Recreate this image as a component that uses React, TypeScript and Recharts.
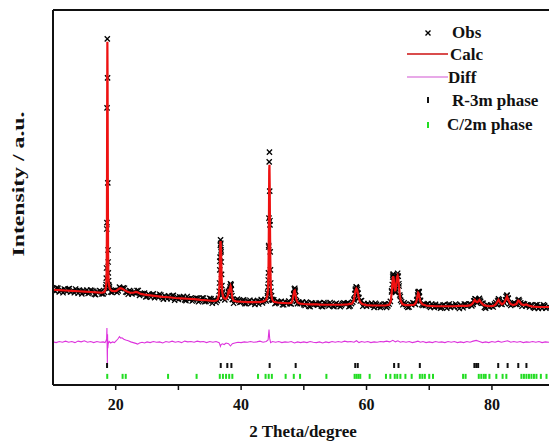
import React from "react";
import { ComposedChart, Scatter, Line, XAxis, YAxis, ReferenceLine, Label } from "recharts";

// XRD Rietveld fit: observed crosses, calculated profile, difference curve, Bragg ticks.
// Intensities are in arbitrary units (0..1000 over the plot height).

const FONT = '"Liberation Serif", "Times New Roman", serif';

const thetaTicks = [20, 30, 40, 50, 60, 70, 80];

// observed background, one reading every 0.4 deg from 10 deg
const obsStart = 10;
const obsStep = 0.4;
const obsGrid = [
  257, 250, 258, 252, 246, 254, 256, 248, 252, 256,
  245, 250, 252, 247, 244, 253, 250, 241, 248, 250,
  243, 261, 328, 248, 252, 253, 251, 257, 259, 248,
  242, 250, 247, 245, 252, 242, 243, 235, 242, 234,
  243, 237, 234, 240, 229, 235, 237, 230, 239, 231,
  228, 233, 236, 225, 230, 232, 227, 232, 222, 228,
  232, 223, 224, 230, 226, 220, 231, 355, 232, 233,
  246, 268, 218, 224, 225, 221, 227, 217, 223, 218,
  225, 221, 216, 228, 224, 224, 372, 228, 227, 219,
  221, 223, 214, 218, 224, 216, 241, 223, 221, 219,
  214, 221, 210, 219, 214, 215, 218, 210, 220, 215,
  211, 216, 209, 218, 214, 212, 219, 217, 209, 217,
  227, 260, 232, 225, 217, 210, 213, 218, 207, 215,
  213, 210, 216, 207, 216, 251, 266, 279, 264, 222,
  219, 210, 208, 214, 218, 226, 249, 214, 215, 215,
  210, 216, 207, 210, 211, 207, 214, 205, 216, 212,
  208, 213, 204, 211, 216, 210, 216, 211, 225, 219,
  231, 218, 207, 214, 208, 210, 216, 214, 227, 215,
  218, 238, 216, 215, 219, 215, 224, 210, 216, 214,
  208, 212, 205, 214, 210, 205, 212, 207,
];
// the readings in between, from 10.2 deg
const obsMidStart = 10.2;
const obsGridMid = [
  252, 259, 248, 253, 256, 249, 257, 250, 246, 252,
  253, 243, 249, 253, 246, 252, 242, 248, 252, 243,
  247, 433, 262, 247, 252, 247, 261, 257, 258, 247,
  252, 243, 246, 252, 239, 244, 245, 236, 240, 241,
  233, 237, 242, 233, 238, 230, 234, 238, 226, 234,
  235, 230, 227, 236, 229, 224, 230, 231, 225, 232,
  222, 226, 231, 218, 227, 225, 330, 248, 227, 240,
  255, 228, 226, 229, 220, 225, 217, 222, 226, 220,
  215, 225, 223, 219, 228, 238, 438, 226, 217, 223,
  220, 214, 222, 220, 217, 232, 253, 217, 217, 221,
  212, 218, 209, 218, 216, 213, 219, 209, 218, 214,
  220, 211, 216, 213, 209, 217, 216, 219, 211, 221,
  253, 246, 224, 210, 214, 217, 212, 214, 218, 209,
  207, 213, 216, 211, 223, 293, 247, 290, 236, 214,
  215, 207, 216, 219, 215, 246, 226, 212, 212, 217,
  207, 213, 215, 209, 205, 213, 210, 214, 207, 211,
  216, 208, 213, 206, 215, 212, 216, 215, 229, 222,
  223, 218, 205, 212, 213, 208, 220, 226, 216, 223,
  227, 231, 212, 218, 215, 220, 219, 217, 211, 213,
  213, 207, 214, 204, 209, 214, 205, 210,
];

// observed points recorded across the reflections
const obsPeaks: [number, number][] = [
  [18.46, 268], [18.5, 285], [18.54, 312], [18.58, 416], [18.62, 739], [18.66, 923],
  [18.7, 819], [18.74, 539], [18.78, 360], [18.82, 299], [18.86, 278], [18.92, 266], [19.0, 258],
  [36.5, 250], [36.56, 272], [36.6, 307], [36.64, 341], [36.68, 373], [36.72, 387],
  [36.76, 378], [36.8, 360], [36.84, 328], [36.88, 295], [36.94, 265], [37.02, 245],
  [37.9, 238], [37.96, 250], [38.04, 246], [38.16, 252], [38.24, 262], [38.3, 270],
  [38.36, 266], [38.44, 255], [38.54, 238], [38.64, 228],
  [44.22, 245], [44.28, 261], [44.32, 280], [44.36, 299], [44.4, 368], [44.44, 445],
  [44.48, 595], [44.52, 621], [44.56, 517], [44.6, 427], [44.64, 355], [44.68, 307],
  [44.72, 272], [44.78, 250], [44.86, 238], [44.96, 228],
  [48.3, 232], [48.4, 244], [48.48, 256], [48.56, 258], [48.64, 250], [48.72, 238], [48.84, 224],
  [58.05, 230], [58.15, 244], [58.25, 256], [58.35, 262], [58.45, 259], [58.55, 255],
  [58.65, 244], [58.75, 234],
  [64.0, 248], [64.1, 268], [64.18, 288], [64.26, 296], [64.34, 287], [64.44, 264],
  [64.56, 250], [64.66, 256], [64.76, 275], [64.86, 292], [64.96, 298], [65.06, 290],
  [65.16, 270], [65.3, 240], [65.44, 226],
  [68.05, 228], [68.15, 240], [68.25, 249], [68.35, 246], [68.45, 236], [68.6, 224],
  [77.1, 224], [77.3, 230], [77.5, 222], [77.9, 228], [78.1, 226],
  [80.9, 224], [81.05, 230], [82.25, 236], [82.4, 240], [82.55, 232], [84.15, 226], [84.3, 228],
];

const calcProfile: [number, number][] = [
  [10, 254], [11, 253], [12, 252], [13, 251], [14, 250], [15, 249], [16, 248], [17, 247],
  [17.8, 246], [18.2, 248], [18.4, 256], [18.48, 266], [18.52, 280], [18.56, 305],
  [18.6, 420], [18.64, 735], [18.67, 915], [18.7, 815], [18.74, 545], [18.78, 365],
  [18.82, 300], [18.88, 275], [18.96, 263], [19.1, 255], [19.4, 251], [19.8, 250],
  [20.1, 251], [20.4, 255], [20.7, 258], [21.0, 257], [21.4, 253], [21.8, 249],
  [22.3, 246], [22.8, 246], [23.2, 248], [23.5, 247], [24.0, 243], [24.6, 241],
  [25.5, 239], [26.5, 237], [27.5, 235], [28.5, 234], [29.5, 232], [30.5, 231],
  [31.5, 230], [32.5, 229], [33.5, 227], [34.5, 226], [35.5, 224], [36.0, 225],
  [36.3, 229], [36.45, 240], [36.55, 268], [36.6, 305], [36.64, 345], [36.68, 375],
  [36.72, 384], [36.76, 375], [36.8, 358], [36.84, 325], [36.88, 292], [36.94, 262],
  [37.02, 244], [37.2, 233], [37.5, 229], [37.75, 233], [37.9, 242], [37.98, 249],
  [38.06, 246], [38.16, 250], [38.24, 259], [38.32, 264], [38.4, 260], [38.48, 248],
  [38.6, 233], [38.8, 225], [39.2, 223], [40, 222], [41, 221], [42, 221], [43, 221],
  [43.6, 223], [44.0, 227], [44.2, 240], [44.28, 255], [44.32, 273], [44.36, 295],
  [44.4, 365], [44.44, 450], [44.48, 570], [44.52, 587], [44.56, 530], [44.6, 432],
  [44.64, 352], [44.68, 302], [44.72, 270], [44.78, 248], [44.86, 236], [44.96, 228],
  [45.2, 222], [45.8, 220], [46.5, 219], [47.5, 218], [48.0, 219], [48.2, 226],
  [48.35, 240], [48.48, 251], [48.56, 252], [48.66, 243], [48.8, 228], [49.0, 220],
  [49.4, 217], [50, 216], [51, 215], [52, 215], [53, 214], [54, 214], [55, 214],
  [56, 214], [57, 215], [57.7, 217], [57.95, 225], [58.1, 238], [58.25, 252],
  [58.38, 257], [58.5, 254], [58.62, 245], [58.75, 233], [58.95, 222], [59.3, 216],
  [60, 213], [61, 212], [62, 212], [63, 212], [63.6, 214], [63.85, 222], [64.0, 244],
  [64.1, 265], [64.18, 284], [64.26, 290], [64.34, 283], [64.44, 262], [64.56, 250],
  [64.66, 255], [64.76, 272], [64.86, 287], [64.96, 291], [65.06, 284], [65.16, 266],
  [65.3, 240], [65.45, 225], [65.7, 216], [66.2, 213], [67.0, 213], [67.6, 214],
  [67.9, 220], [68.05, 230], [68.15, 240], [68.23, 246], [68.32, 244], [68.45, 233],
  [68.6, 222], [68.9, 215], [69.5, 212], [70, 211], [71, 210], [72, 210], [73, 210],
  [74, 210], [75, 211], [76, 211], [76.6, 213], [76.95, 218], [77.25, 227], [77.5, 222],
  [77.7, 221], [78.0, 227], [78.3, 219], [78.7, 213], [79.5, 210], [80.2, 211],
  [80.6, 215], [80.85, 222], [81.05, 227], [81.3, 220], [81.6, 215], [81.95, 219],
  [82.2, 228], [82.4, 236], [82.6, 228], [82.9, 217], [83.4, 213], [83.9, 216],
  [84.2, 225], [84.4, 223], [84.7, 215], [85.1, 213], [85.5, 215], [85.8, 212],
  [86.5, 209], [87.5, 208], [89.1, 208],
];

// obs - calc, shifted down under the pattern
const diffCurve: [number, number][] = [
  [10, 115], [10.5, 113], [11, 116], [11.5, 114], [12, 117], [12.5, 114], [13, 116],
  [13.5, 113], [14, 117], [14.5, 115], [15, 118], [15.5, 114], [16, 116], [16.5, 113],
  [17, 116], [17.5, 114], [18, 115], [18.3, 113], [18.45, 118], [18.55, 122], [18.6, 152],
  [18.64, 90], [18.67, 58], [18.7, 135], [18.74, 98], [18.8, 110], [18.95, 116],
  [19.2, 112], [19.5, 115], [19.8, 113], [20.1, 118], [20.4, 124], [20.6, 129],
  [20.8, 125], [21.0, 126], [21.3, 122], [21.6, 120], [22.0, 118], [22.4, 115],
  [22.8, 113], [23.2, 111], [23.5, 109], [23.8, 112], [24.2, 114], [24.6, 112],
  [25, 115], [25.5, 113], [26, 116], [26.5, 114], [27, 115], [27.5, 112], [28, 116],
  [28.5, 114], [29, 117], [29.5, 114], [30, 116], [30.5, 113], [31, 117], [31.5, 115],
  [32, 116], [32.5, 114], [33, 117], [33.5, 115], [34, 116], [34.5, 113], [35, 116],
  [35.5, 114], [36, 116], [36.5, 113], [36.7, 103], [36.8, 108], [37.0, 110],
  [37.3, 108], [37.6, 112], [38.0, 110], [38.3, 104], [38.6, 110], [39, 112],
  [39.5, 114], [40, 113], [40.5, 115], [41, 114], [41.5, 116], [42, 114], [42.5, 115],
  [43, 117], [43.5, 114], [44.0, 116], [44.3, 120], [44.45, 148], [44.55, 125],
  [44.7, 113], [45, 116], [45.5, 114], [46, 116], [46.5, 113], [47, 115], [47.5, 114],
  [48, 116], [48.5, 112], [49, 115], [49.5, 113], [50, 115], [50.5, 113], [51, 116],
  [51.5, 114], [52, 113], [52.5, 115], [53, 112], [53.5, 115], [54, 113], [54.5, 116],
  [55, 114], [55.5, 116], [56, 114], [56.5, 117], [57, 115], [57.5, 116], [58, 114],
  [58.4, 118], [58.8, 113], [59.2, 116], [59.7, 114], [60.2, 116], [60.7, 113],
  [61.2, 115], [61.7, 114], [62.2, 116], [62.7, 115], [63.2, 117], [63.7, 115],
  [64.2, 119], [64.6, 115], [65.0, 118], [65.4, 114], [65.8, 116], [66.3, 114],
  [66.8, 116], [67.3, 113], [67.8, 115], [68.2, 117], [68.6, 114], [69, 116],
  [69.5, 113], [70, 115], [70.5, 113], [71, 116], [71.5, 114], [72, 115], [72.5, 113],
  [73, 116], [73.5, 114], [74, 116], [74.5, 113], [75, 115], [75.5, 113], [76, 116],
  [76.5, 114], [77, 117], [77.5, 119], [78, 116], [78.5, 113], [79, 115], [79.5, 113],
  [80, 116], [80.5, 114], [81, 117], [81.5, 114], [82, 116], [82.5, 118], [83, 114],
  [83.5, 116], [84, 114], [84.5, 116], [85, 113], [85.5, 115], [86, 114], [86.5, 116],
  [87, 114], [87.5, 116], [88, 113], [88.5, 115], [89.1, 114],
];

// Bragg reflection positions (deg)
const r3mPeaks = [
  18.62, 36.75, 37.8, 38.45, 44.55, 48.7, 58.2, 58.6, 64.4, 65.1, 68.5,
  77.2, 77.5, 77.8, 81.0, 82.5, 84.2, 85.5,
];
const c2mPeaks = [
  18.65, 21.1, 21.6, 28.35, 32.9, 36.6, 37.1, 37.6, 38.1, 38.6, 42.7, 43.9, 44.4, 44.9,
  47.1, 48.4, 49.4, 53.6, 58.1, 58.4, 58.7, 59.0, 60.5, 63.1, 63.8, 64.5, 64.9, 65.4,
  66.2, 67.2, 68.5, 68.9, 69.3, 70.0, 70.6, 75.4, 75.8, 77.9, 78.3, 78.7, 79.0, 79.6,
  80.7, 81.7, 82.3, 84.7, 85.1, 85.5, 85.9, 86.3, 86.7, 87.1, 87.8, 88.7,
];
const R3M_ROW = 52;
const C2M_ROW = 23;

const toPts = (arr: [number, number][]) => arr.map(([t, v]) => ({ t, v }));
const gridPts = (start: number, vals: number[]) =>
  vals.map((v, i) => ({ t: +(start + i * obsStep).toFixed(2), v }));

const obsPts = [
  ...gridPts(obsStart, obsGrid),
  ...gridPts(obsMidStart, obsGridMid),
  ...toPts(obsPeaks),
].sort((a, b) => a.t - b.t);
const calcPts = toPts(calcProfile);
const diffPts = toPts(diffCurve);
const r3mPts = r3mPeaks.map((t) => ({ t, v: R3M_ROW }));
const c2mPts = c2mPeaks.map((t) => ({ t, v: C2M_ROW }));

const cross = (p: any) => {
  const { cx, cy } = p;
  const s = 2.6;
  return (
    <path
      d={`M${cx - s},${cy - s}L${cx + s},${cy + s}M${cx - s},${cy + s}L${cx + s},${cy - s}`}
      stroke="#000"
      strokeWidth={1.3}
      fill="none"
    />
  );
};

const braggTick = (color: string) => (p: any) =>
  <rect x={p.cx - 1} y={p.cy - 2.5} width={2} height={5} fill={color} />;

const ThetaTick = ({ x, payload }: any) =>
  payload.value % 20 === 0 ? (
    <text x={x} y={410} textAnchor="middle" fontFamily={FONT} fontWeight="bold" fontSize={16} fill="#111">
      {payload.value}
    </text>
  ) : (
    <g />
  );

const textStyle = { fontFamily: FONT, fontWeight: "bold" as const, fill: "#111" };

function LegendBox() {
  return (
    <svg width={549} height={443} style={{ position: "absolute", left: 0, top: 0, pointerEvents: "none" }}>
      <path d="M425.5,30.5L430.5,35.5M425.5,35.5L430.5,30.5" stroke="#000" strokeWidth={1.4} />
      <text x={452} y={38} fontSize={17} {...textStyle}>Obs</text>
      <line x1={407} x2={448} y1={54} y2={54} stroke="#cc1111" strokeWidth={1.6} />
      <text x={450} y={60} fontSize={17} {...textStyle}>Calc</text>
      <line x1={407} x2={448} y1={77} y2={77} stroke="#e08ce0" strokeWidth={1.6} />
      <text x={448} y={83} fontSize={17} {...textStyle}>Diff</text>
      <rect x={427} y={97} width={2} height={6} fill="#111" />
      <text x={452} y={106} fontSize={17} {...textStyle}>R-3m phase</text>
      <rect x={427} y={122} width={2} height={6} fill="#22dd22" />
      <text x={447} y={130} fontSize={17} {...textStyle}>C/2m phase</text>
    </svg>
  );
}

export default function App() {
  return (
    <div style={{ position: "absolute", left: 0, top: 0, width: 549, height: 443, background: "#fff" }}>
      <ComposedChart width={549} height={443} margin={{ top: 10, right: 0, left: 0, bottom: 0 }}>
        <XAxis
          type="number"
          dataKey="t"
          domain={[10, 89.1]}
          allowDataOverflow
          ticks={thetaTicks}
          tick={<ThetaTick />}
          tickSize={5}
          tickLine={{ stroke: "#111", strokeWidth: 1.5 }}
          axisLine={{ stroke: "#111", strokeWidth: 2 }}
          height={58}
        >
          <Label
            content={() => (
              <text x={303} y={437} textAnchor="middle" fontSize={17} {...textStyle}>
                2 Theta/degree
              </text>
            )}
          />
        </XAxis>
        <YAxis
          type="number"
          domain={[0, 1000]}
          allowDataOverflow
          tick={false}
          tickLine={false}
          width={53}
          axisLine={{ stroke: "#111", strokeWidth: 2 }}
        >
          <Label
            content={() => (
              <text
                x={24}
                y={184}
                textAnchor="middle"
                fontSize={17}
                textLength={145}
                lengthAdjust="spacingAndGlyphs"
                transform="rotate(-90 24 184)"
                {...textStyle}
              >
                Intensity / a.u.
              </text>
            )}
          />
        </YAxis>
        <ReferenceLine y={1000} stroke="#111" strokeWidth={2} />
        <Scatter name="Obs" data={obsPts} dataKey="v" shape={cross} isAnimationActive={false} zIndex={350} />
        <Line
          name="Calc"
          data={calcPts}
          dataKey="v"
          type="linear"
          stroke="#ee1111"
          strokeWidth={2.2}
          dot={false}
          isAnimationActive={false}
        />
        <Line
          name="Diff"
          data={diffPts}
          dataKey="v"
          type="linear"
          stroke="#dd33dd"
          strokeWidth={1.1}
          dot={false}
          isAnimationActive={false}
        />
        <Scatter name="R-3m phase" data={r3mPts} dataKey="v" shape={braggTick("#111")} isAnimationActive={false} />
        <Scatter name="C/2m phase" data={c2mPts} dataKey="v" shape={braggTick("#22dd22")} isAnimationActive={false} />
      </ComposedChart>
      <LegendBox />
    </div>
  );
}
